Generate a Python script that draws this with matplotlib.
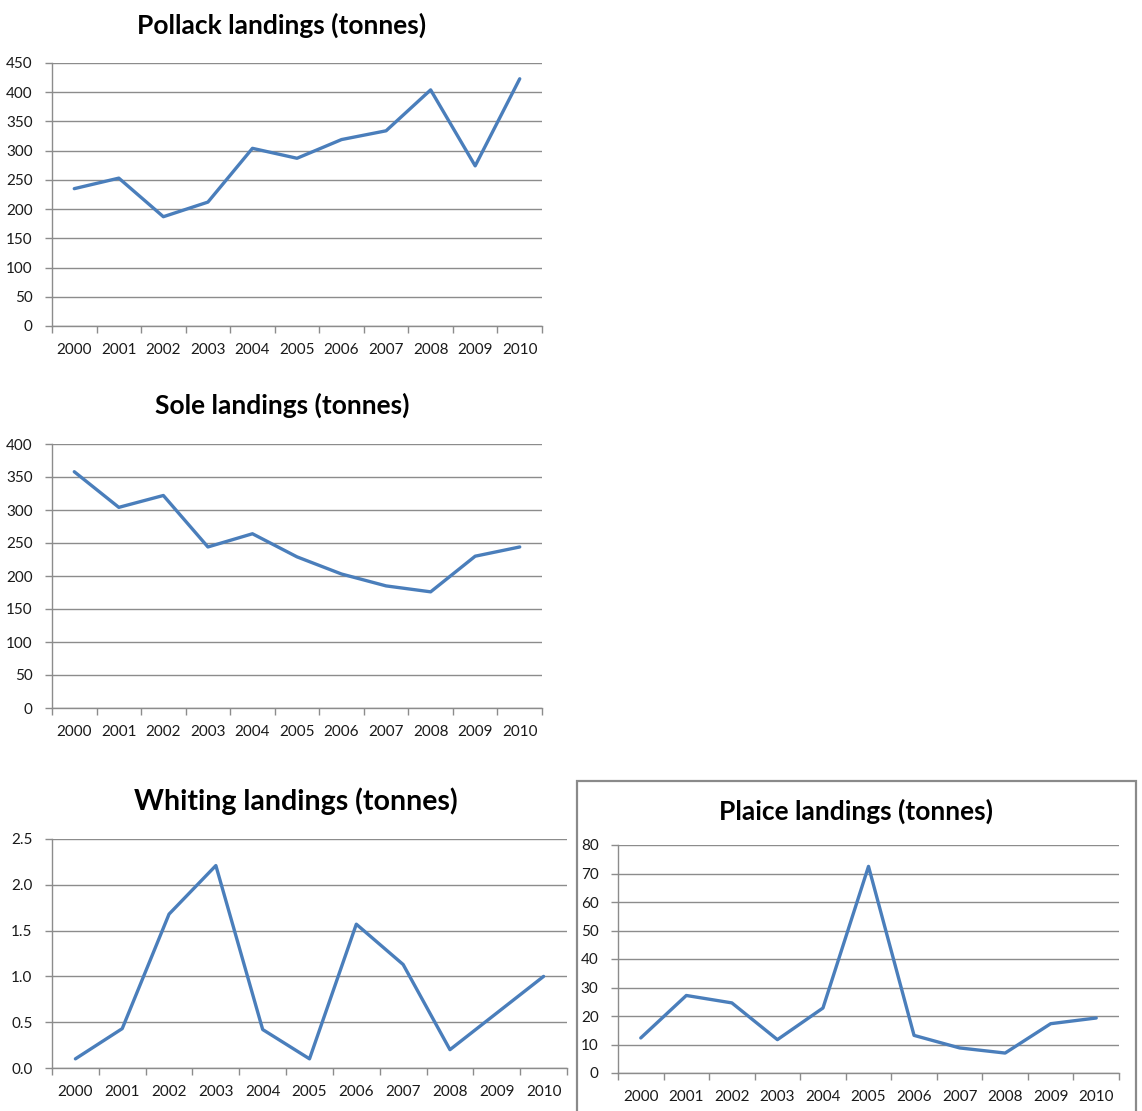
import numpy as np
import matplotlib
matplotlib.use("Agg")
from matplotlib import pyplot as plt
from matplotlib.patches import Rectangle
from matplotlib.ticker import FormatStrFormatter

plt.rcParams['font.family'] = ['Lato', 'DejaVu Sans']

years = ['2000', '2001', '2002', '2003', '2004', '2005',
         '2006', '2007', '2008', '2009', '2010']

pollack = [235, 253, 187, 212, 304, 287, 319, 334, 404, 274, 423]
sole = [358, 304, 322, 244, 264, 229, 203, 185, 176, 230, 244]
whiting = [0.10, 0.43, 1.68, 2.21, 0.42, 0.10, 1.57, 1.13, 0.20, 0.60, 1.00]
plaice = [12.3, 27.2, 24.6, 11.7, 22.8, 72.5, 13.2, 8.8, 7.0, 17.3, 19.3]

LINE = '#4A7EBB'
GRID = '#8C8C8C'
TXT = '#1A1A1A'

W, H = 1142, 1111
fig = plt.figure(figsize=(W / 100, H / 100), dpi=100)


def px_axes(x0, y0, x1, y1):
    # axes box given in pixel coords (top-left origin)
    return fig.add_axes([x0 / W, 1 - y1 / H, (x1 - x0) / W, (y1 - y0) / H])


def draw(ax, values, ymax, step, fmt=None):
    x = np.arange(len(years)) + 0.5
    ax.plot(x, values, color=LINE, lw=2.4, solid_capstyle='round',
            solid_joinstyle='round', zorder=3)
    ax.set_xlim(0, len(years))
    ax.set_ylim(0, ymax)
    ax.set_yticks(np.arange(0, ymax + step / 2, step))
    if fmt:
        ax.yaxis.set_major_formatter(FormatStrFormatter(fmt))
    ax.set_xticks(np.arange(len(years) + 1))
    ax.set_xticklabels([])
    ax.set_xticks(x, minor=True)
    ax.set_xticklabels(years, minor=True)
    ax.tick_params(axis='x', which='major', direction='out', length=5,
                   width=1, color=GRID)
    ax.tick_params(axis='x', which='minor', length=0, pad=12,
                   labelsize=11, labelcolor=TXT)
    ax.tick_params(axis='y', direction='out', length=5, width=1, color=GRID,
                   pad=9, labelsize=11, labelcolor=TXT)
    ax.yaxis.grid(True, color=GRID, lw=1)
    ax.set_axisbelow(True)
    for s in ('top', 'right'):
        ax.spines[s].set_visible(False)
    for s in ('left', 'bottom'):
        ax.spines[s].set_color(GRID)
        ax.spines[s].set_linewidth(1)


ax1 = px_axes(52, 63, 542, 326)
draw(ax1, pollack, 450, 50)
fig.text(282 / W, 1 - 25 / H, 'Pollack landings (tonnes)', ha='center',
         va='center', fontsize=19, fontweight='bold', color='black')

ax2 = px_axes(52, 444, 542, 708)
draw(ax2, sole, 400, 50)
fig.text(282 / W, 1 - 405 / H, 'Sole landings (tonnes)', ha='center',
         va='center', fontsize=19, fontweight='bold', color='black')

ax3 = px_axes(52, 839, 567, 1068)
draw(ax3, whiting, 2.5, 0.5, '%.1f')
fig.text(296 / W, 1 - 801 / H, 'Whiting landings (tonnes)', ha='center',
         va='center', fontsize=20.5, fontweight='bold', color='black')

# framed chart on the lower right
fig.add_artist(Rectangle((577 / W, -0.01), (1136 - 577) / W,
                         1 - 781 / H + 0.01, transform=fig.transFigure,
                         fill=False, edgecolor='#8A8A8A', lw=1.6))
ax4 = px_axes(618, 845, 1119, 1073)
draw(ax4, plaice, 80, 10)
fig.text(856 / W, 1 - 811 / H, 'Plaice landings (tonnes)', ha='center',
         va='center', fontsize=19, fontweight='bold', color='black')

plt.savefig('out.png', dpi=100)
